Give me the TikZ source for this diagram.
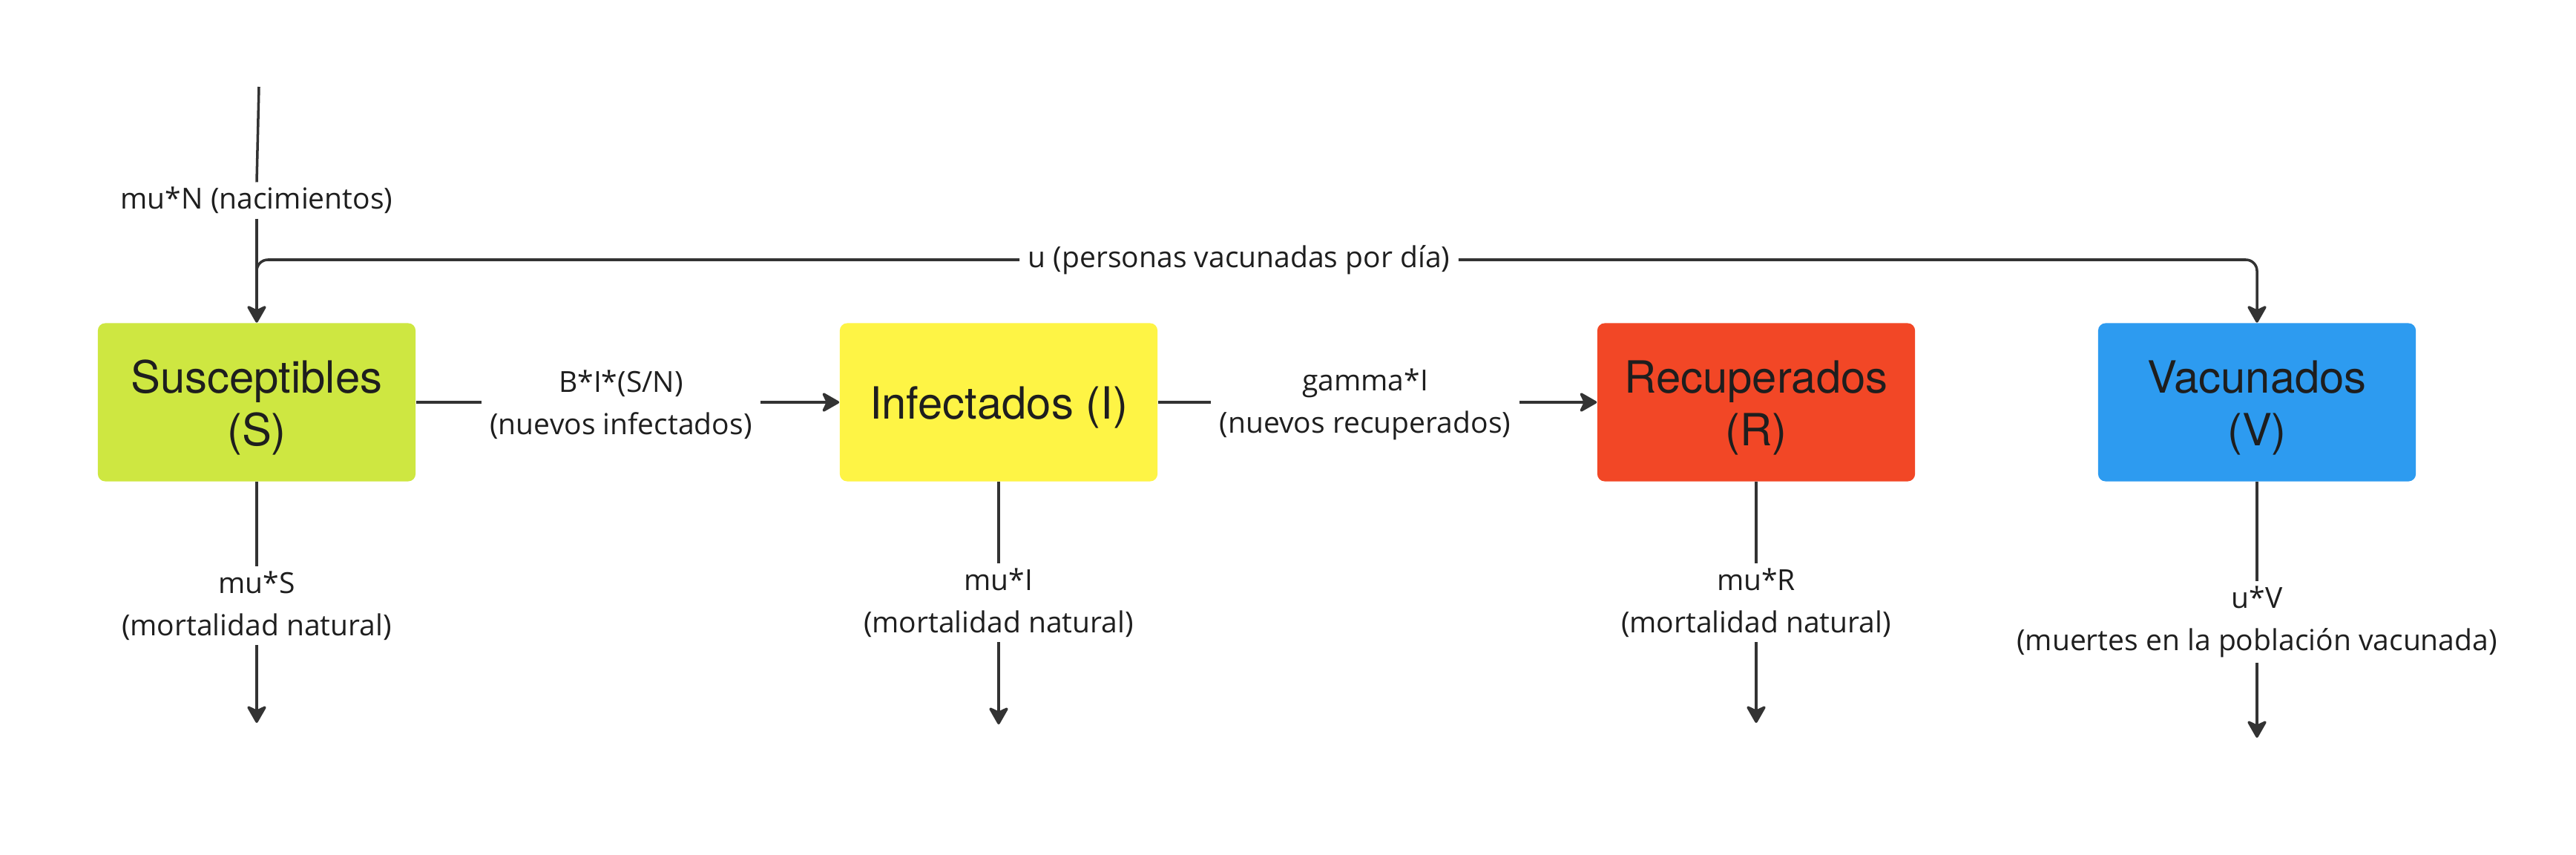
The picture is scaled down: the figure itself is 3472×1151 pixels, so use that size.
\documentclass[tikz,border=0pt]{standalone}
\usepackage{fontspec}
\setmainfont{Open Sans}
\newfontfamily\boxfont{TeX Gyre Heros}
\usetikzlibrary{arrows.meta}
\definecolor{lineC}{HTML}{333333}
\definecolor{txtC}{HTML}{1E1E1E}
\definecolor{cS}{HTML}{CEE741}
\definecolor{cI}{HTML}{FEF445}
\definecolor{cR}{HTML}{F24726}
\definecolor{cV}{HTML}{2D9BF0}
\newcommand\boxtxt[1]{\raisebox{-2.4pt}[\height][\depth]{\begin{tabular}{@{}c@{}}#1\end{tabular}}}
\begin{document}
\begin{tikzpicture}[x=0.01cm,y=-0.01cm,
  comp/.style={rounded corners=0.1cm, minimum width=4.28cm, minimum height=2.13cm,
    font=\boxfont\fontsize{17}{20.2}\selectfont, text=txtC, inner sep=0pt},
  lab/.style={align=center, font=\fontsize{11.1}{16.3}\selectfont, text=txtC, inner xsep=0.11cm, inner ysep=0.06cm},
  flow/.style={draw=lineC, line width=1pt},
  arr/.style={flow, -{Stealth[length=7.5pt,width=8.5pt,inset=2pt,round]}}]
\useasboundingbox (0,0) rectangle (3472,1151);
\fill[white] (0,0) rectangle (3472,1151);

% compartments
\node[comp, fill=cS] (S) at (346,542) {\boxtxt{Susceptibles\\(S)}};
\node[comp, fill=cI] (I) at (1346,542) {\boxtxt{Infectados (I)}};
\node[comp, fill=cR] (R) at (2367,542) {\boxtxt{Recuperados\\(R)}};
\node[comp, fill=cV] (V) at (3042,542) {\boxtxt{Vacunados\\(V)}};

% labels
\node[lab] (lN) at (346,270) {mu*N (nacimientos)};
\node[lab] (lu) at (1670,350) {u (personas vacunadas por día)};
\node[lab] (lSI) at (837,545) {B*I*(S/N)\\(nuevos infectados)};
\node[lab] (lIR) at (1840,545) {gamma*I\\(nuevos recuperados)};
\node[lab] (lS) at (346,816) {mu*S\\(mortalidad natural)};
\node[lab] (lI) at (1346,812) {mu*I\\(mortalidad natural)};
\node[lab] (lR) at (2367,812) {mu*R\\(mortalidad natural)};
\node[lab] (lV) at (3042,838) {u*V\\(muertes en la población vacunada)};

% free ends
\coordinate (top) at (349,117);
\coordinate (ub) at (346,380);
\coordinate (Se) at (346,974);
\coordinate (Ie) at (1346,976);
\coordinate (Re) at (2367,974);
\coordinate (Ve) at (3042,994);

% births
\draw[flow] (top) -- (lN.north);
\draw[arr] (lN.south) -- (S.north);

% vaccination
\draw[flow, rounded corners=0.15cm] (ub) |- (lu.west);
\draw[arr, rounded corners=0.15cm] (lu.east) -| (V.north);

% S -> I
\draw[flow] (S.east) -- (S.east -| lSI.west);
\draw[arr] (S.east -| lSI.east) -- (I.west);

% I -> R
\draw[flow] (I.east) -- (I.east -| lIR.west);
\draw[arr] (I.east -| lIR.east) -- (R.west);

% deaths
\draw[flow] (S.south) -- (lS.north);
\draw[arr] (lS.south) -- (Se);
\draw[flow] (I.south) -- (lI.north);
\draw[arr] (lI.south) -- (Ie);
\draw[flow] (R.south) -- (lR.north);
\draw[arr] (lR.south) -- (Re);
\draw[flow] (V.south) -- (lV.north);
\draw[arr] (lV.south) -- (Ve);
\end{tikzpicture}
\end{document}
